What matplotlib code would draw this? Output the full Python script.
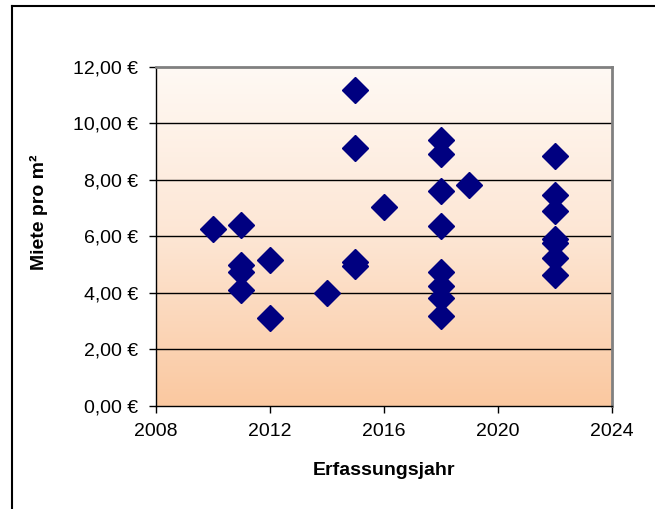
import numpy as np
import matplotlib.pyplot as plt
from matplotlib.colors import LinearSegmentedColormap
from matplotlib.lines import Line2D

plt.rcParams['font.family'] = ['Liberation Sans', 'DejaVu Sans']

# Erfassungsjahr / Miete pro m²
jahre = [2010, 2011, 2011, 2011, 2011, 2012, 2012, 2014,
         2015, 2015, 2015, 2015, 2016,
         2018, 2018, 2018, 2018, 2018, 2018, 2018, 2018, 2019,
         2022, 2022, 2022, 2022, 2022, 2022, 2022]
miete = [6.25, 6.40, 4.98, 4.75, 4.10, 5.17, 3.13, 3.99,
         11.20, 9.14, 5.10, 4.97, 7.06,
         9.42, 8.92, 7.61, 6.38, 4.75, 4.23, 3.81, 3.19, 7.84,
         8.86, 7.47, 6.90, 5.90, 5.78, 5.24, 4.64]

x_ticks = [2008, 2012, 2016, 2020, 2024]
y_ticks = [0, 2, 4, 6, 8, 10, 12]

fig = plt.figure(figsize=(6.55, 5.09), dpi=100)
ax = fig.add_axes([0.238, 0.2024, 0.696, 0.666])

# gradient background of the plot area
cmap = LinearSegmentedColormap.from_list('peach', ['#fac8a0', '#fde6d4', '#fff9f4'])
grad = np.linspace(0, 1, 256).reshape(-1, 1)
ax.imshow(grad, aspect='auto', cmap=cmap, origin='lower',
          extent=[0, 1, 0, 1], transform=ax.transAxes, zorder=0)

for yv in y_ticks[1:-1]:
    ax.axhline(yv, color='black', linewidth=1, zorder=1)

ax.plot(jahre, miete, linestyle='none', marker='D', markersize=13.5,
        color='#000080', zorder=3, clip_on=False)

ax.set_xlim(2008, 2024)
ax.set_ylim(0, 12)
ax.set_xticks(x_ticks)
ax.set_yticks(y_ticks)
ax.set_yticklabels([f'{v:.2f}'.replace('.', ',') + ' €' for v in y_ticks])
ax.tick_params(axis='both', direction='out', length=5, width=1, labelsize=14, colors='black')
ax.tick_params(axis='x', pad=7)
ax.tick_params(axis='y', pad=8)

for s in ['top', 'right']:
    ax.spines[s].set_color('#808080')
    ax.spines[s].set_linewidth(2)
for s in ['left', 'bottom']:
    ax.spines[s].set_color('black')
    ax.spines[s].set_linewidth(1)

ax.set_xlabel('Erfassungsjahr', fontsize=14, fontweight='bold')
ax.xaxis.set_label_coords(0.5, -0.165)
ax.set_ylabel('Miete pro m²', fontsize=14, fontweight='bold')
ax.yaxis.set_label_coords(-0.237, 0.571)

# outer chart frame (only left and top visible)
fig.add_artist(Line2D([12 / 655, 12 / 655], [0, 1 - 6 / 509], color='black', linewidth=1.5,
                      transform=fig.transFigure))
fig.add_artist(Line2D([12 / 655, 1], [1 - 6 / 509, 1 - 6 / 509], color='black', linewidth=1.5,
                      transform=fig.transFigure))

plt.savefig('out.png', dpi=100)
